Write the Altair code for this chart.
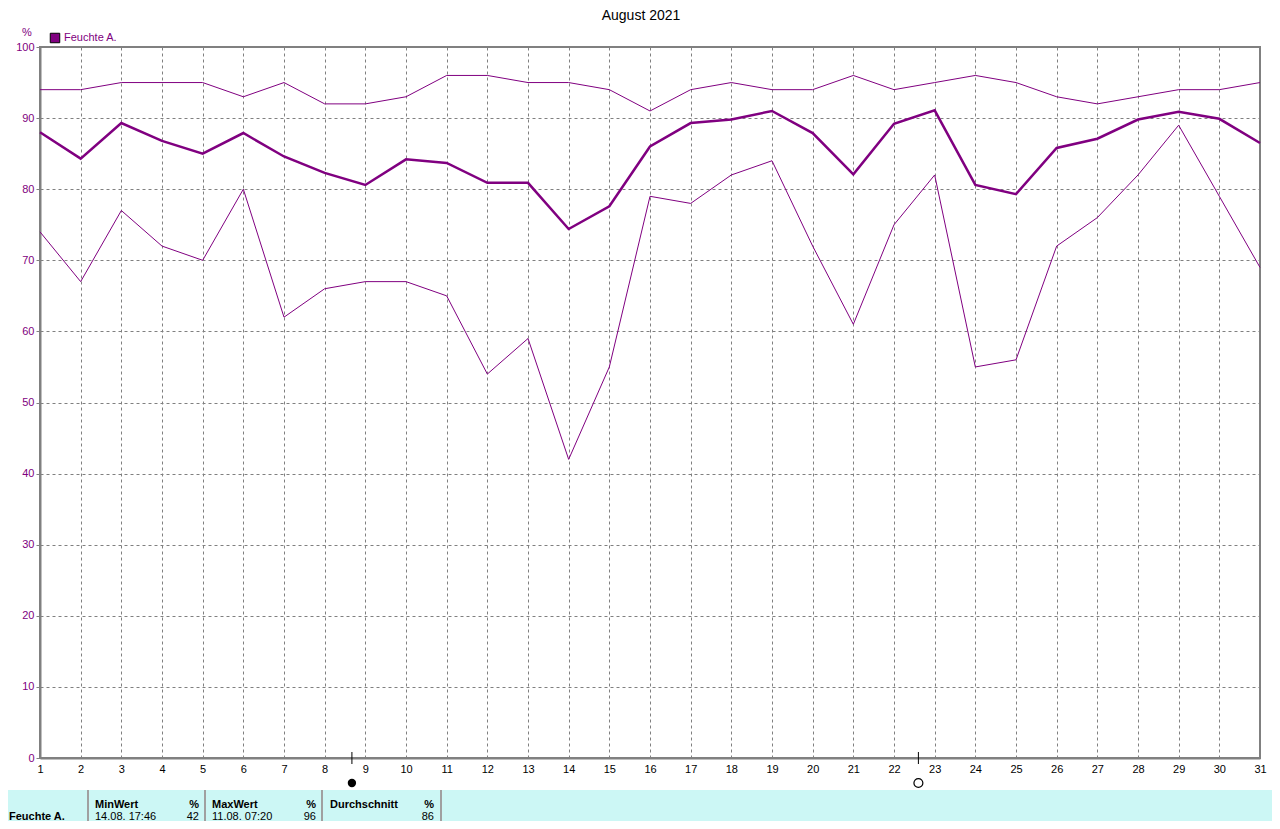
import altair as alt
import pandas as pd

# ---------------- data ----------------
days = list(range(1, 32))
hum_max = [94, 94, 95, 95, 95, 93, 95, 92, 92, 93, 96, 96, 95, 95, 94, 91,
           94, 95, 94, 94, 96, 94, 95, 96, 95, 93, 92, 93, 94, 94, 95]
hum_min = [74, 67, 77, 72, 70, 80, 62, 66, 67, 67, 65, 54, 59, 42, 55, 79,
           78, 82, 84, 72, 61, 75, 82, 55, 56, 72, 76, 82, 89, 79, 69]
hum_avg = [88.0, 84.3, 89.3, 86.8, 85.0, 87.9, 84.6, 82.3, 80.6, 84.2, 83.7,
           80.9, 80.9, 74.4, 77.6, 86.0, 89.3, 89.8, 91.0, 87.9, 82.1, 89.2,
           91.1, 80.6, 79.3, 85.8, 87.1, 89.8, 90.9, 89.9, 86.5]

moon_days = [8.67, 22.6]
moon_phase = ["Neumond", "Vollmond"]

y_ticks = list(range(0, 101, 10))

series_name = "Feuchte A."
stat_labels = ["MinWert", "MaxWert", "Durchschnitt"]
stat_when = ["14.08.  17:46", "11.08.  07:20", ""]
stat_values = ["42", "96", "86"]
stat_unit = "%"

# ---------------- styles ----------------
PURPLE = "#800080"
GRAY = "#808080"
FONT = "Liberation Sans"
W, H = 1220, 711

df_lines = pd.DataFrame(
    {"day": days * 2, "value": hum_max + hum_min,
     "series": ["max"] * 31 + ["min"] * 31}
)
df_avg = pd.DataFrame({"day": days, "value": hum_avg})
df_moon = pd.DataFrame({"day": moon_days, "phase": moon_phase,
                        "filled": [True, False]})

x_scale = alt.Scale(domain=[1, 31], nice=False, zero=False)
y_scale = alt.Scale(domain=[0, 100], nice=False)

x_axis = alt.Axis(
    values=days, title=None, grid=True, gridDash=[3, 3], gridColor=GRAY,
    gridOpacity=1, gridWidth=1, ticks=False, labelPadding=5, labelColor="black",
    labelFont=FONT, labelFontSize=11, domainColor=GRAY, domainWidth=2,
    labelFlush=False, format="d",
)
y_axis = alt.Axis(
    values=y_ticks, title=None, grid=True, gridDash=[3, 3], gridColor=GRAY,
    gridOpacity=1, gridWidth=1, tickSize=4, tickColor=GRAY, labelPadding=2,
    labelColor=PURPLE, labelFont=FONT, labelFontSize=11, domainColor=GRAY,
    domainWidth=2, labelFlush=False,
)

base = alt.Chart(df_lines)

thin = base.mark_line(color=PURPLE, strokeWidth=1).encode(
    x=alt.X("day:Q", scale=x_scale, axis=x_axis),
    y=alt.Y("value:Q", scale=y_scale, axis=y_axis),
    detail="series:N",
)

thick = alt.Chart(df_avg).mark_line(color=PURPLE, strokeWidth=2.5).encode(
    x=alt.X("day:Q", scale=x_scale),
    y=alt.Y("value:Q", scale=y_scale),
)

moon_ticks = alt.Chart(df_moon).mark_rule(color="black", strokeWidth=1).encode(
    x=alt.X("day:Q", scale=x_scale),
    y=alt.value(H - 6), y2=alt.value(H + 6),
)
moon_new = alt.Chart(df_moon).transform_filter("datum.filled").mark_point(
    shape="circle", filled=True, color="black", size=70, opacity=1
).encode(x=alt.X("day:Q", scale=x_scale), y=alt.value(H + 25))
moon_full = alt.Chart(df_moon).transform_filter("!datum.filled").mark_point(
    shape="circle", filled=False, color="black", size=80, strokeWidth=1.2,
    opacity=1
).encode(x=alt.X("day:Q", scale=x_scale), y=alt.value(H + 25))

one = pd.DataFrame({"k": [0]})


def txt(text, x, y, color="black", size=11, align="left", weight="normal",
        baseline="middle"):
    return alt.Chart(one).mark_text(
        text=text, color=color, fontSize=size, font=FONT, align=align,
        fontWeight=weight, baseline=baseline,
    ).encode(x=alt.value(x), y=alt.value(y))


title = txt("August 2021", 601, -31, size=14, align="center")
unit = txt("%", -13, -14, color=PURPLE, size=11, align="center")
legend_sq = alt.Chart(one).mark_square(
    size=90, color=PURPLE, stroke="black", strokeWidth=1, opacity=1
).encode(x=alt.value(15), y=alt.value(-9))
legend_txt = txt(series_name, 24, -9, color=PURPLE)

# bottom table band
band = alt.Chart(one).mark_rect(color="#CCF7F5").encode(
    x=alt.value(-32), x2=alt.value(W + 12), y=alt.value(H + 32),
    y2=alt.value(H + 64),
)
seps = [
    alt.Chart(one).mark_rule(color="#A0A0A0", strokeWidth=2).encode(
        x=alt.value(px), y=alt.value(H + 32), y2=alt.value(H + 64))
    for px in [48, 165, 282, 401]
]

row1 = H + 47
row2 = H + 59
table_txt = [
    txt(series_name, -31, row2, weight="bold"),
]
col_left = [55, 172, 290]
col_right = [159, 276, 394]
for i in range(3):
    table_txt.append(txt(stat_labels[i], col_left[i], row1, weight="bold"))
    table_txt.append(txt(stat_unit, col_right[i], row1, weight="bold",
                         align="right"))
    if stat_when[i]:
        table_txt.append(txt(stat_when[i], col_left[i], row2))
    table_txt.append(txt(stat_values[i], col_right[i], row2, align="right"))

chart = alt.layer(
    thin, thick, moon_ticks, moon_new, moon_full, title, unit, legend_sq,
    legend_txt, band, *seps, *table_txt,
).properties(
    width=W, height=H,
    padding={"left": 32, "top": 39, "right": 12, "bottom": 63},
    autosize=alt.AutoSizeParams(type="none"),
    background="white",
).configure_view(stroke=GRAY, strokeWidth=2)

chart.save("out.html", embed_options={"renderer": "svg", "actions": False})
